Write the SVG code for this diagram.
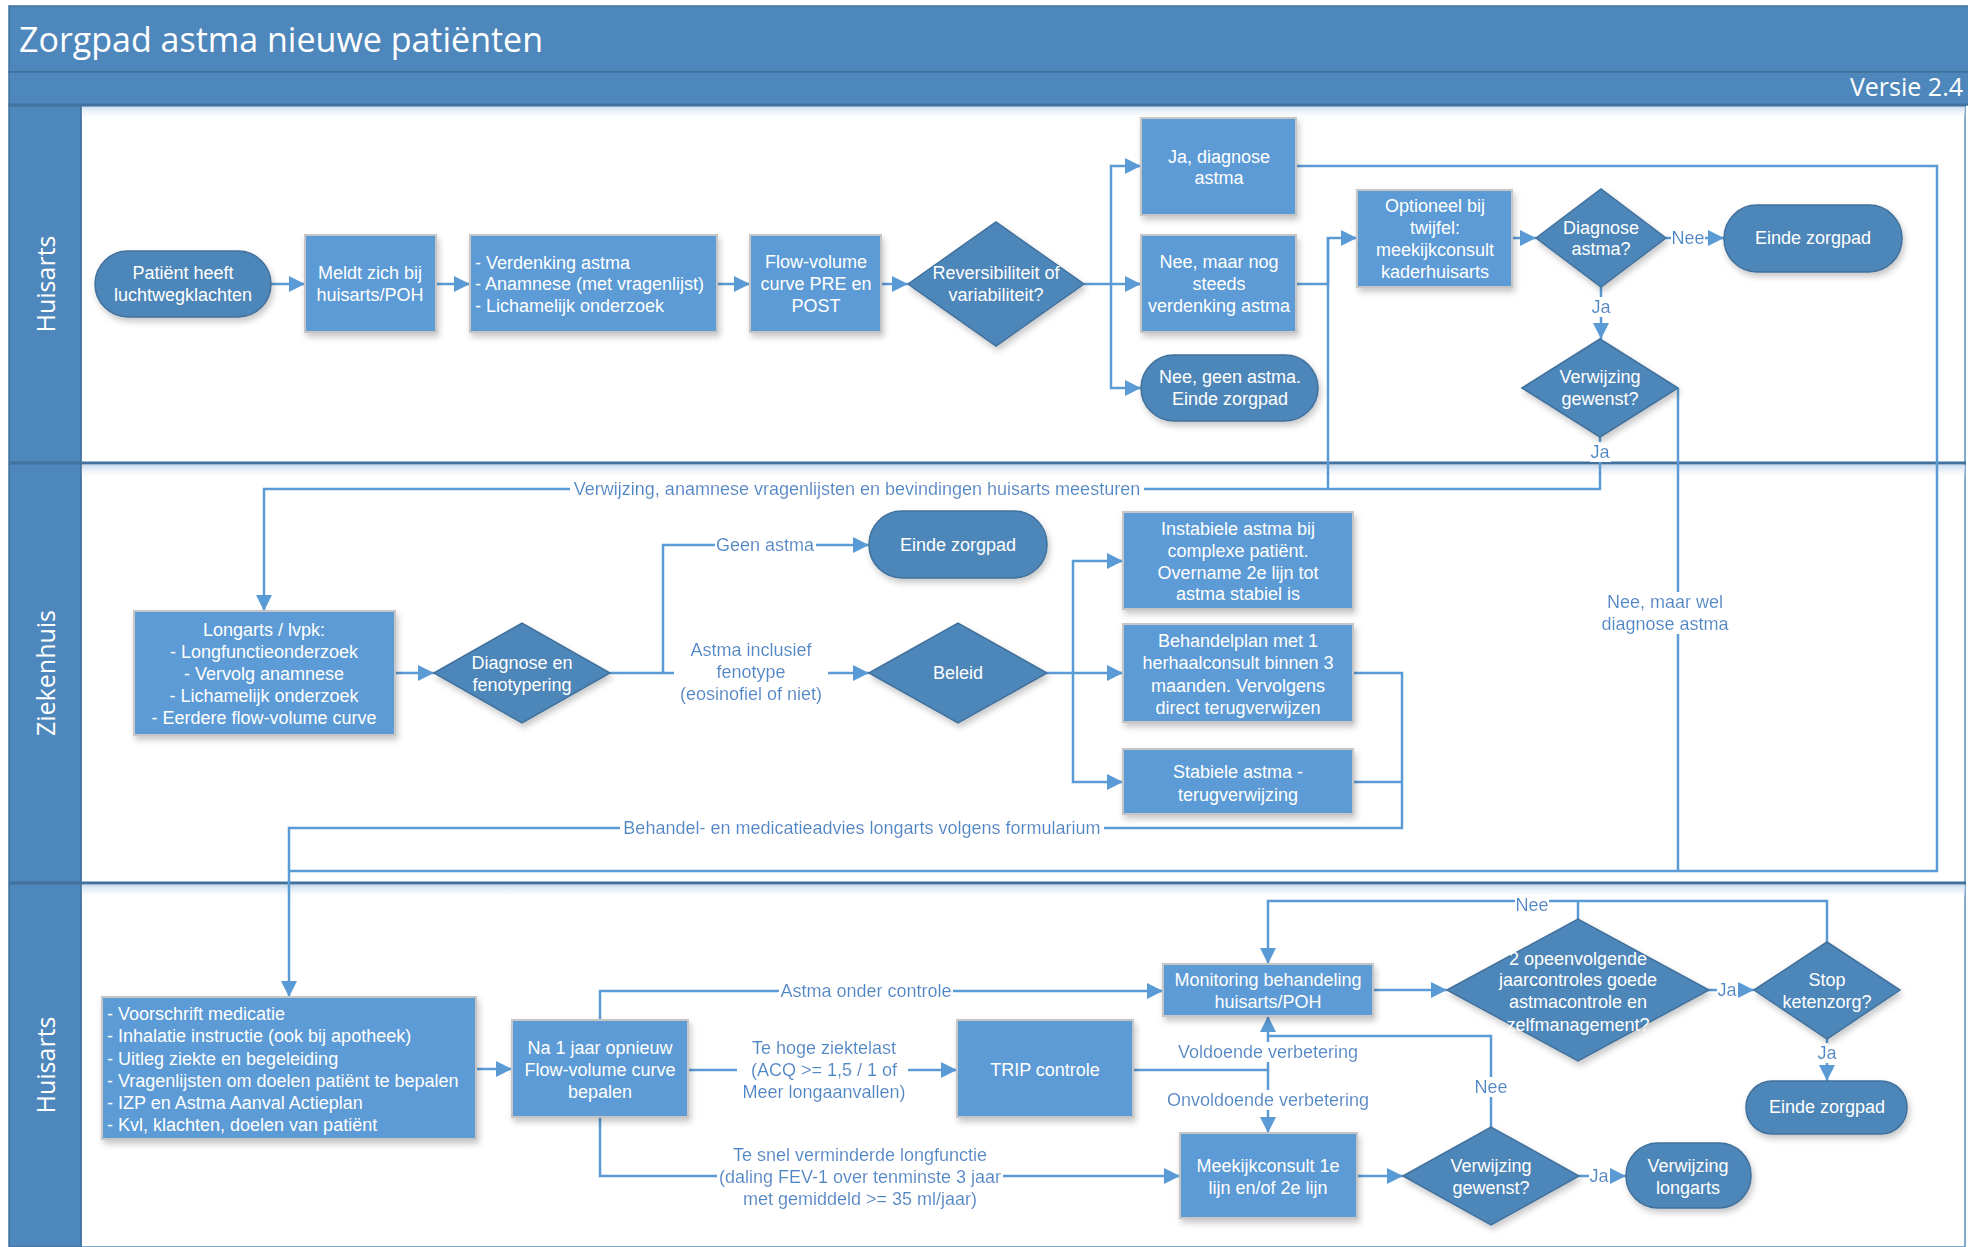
<svg xmlns="http://www.w3.org/2000/svg" width="1968" height="1247" viewBox="0 0 1968 1247">
<style>
.bar{fill:#4e87bc;stroke:#41719c;stroke-width:1.5}
.sep{stroke:#41719c;stroke-width:3}
.box{fill:#5b9bd5;stroke:#c6c6c6;stroke-width:2;filter:url(#sh)}
.dk{fill:#4e86b9;stroke:#41719c;stroke-width:1.5;filter:url(#sh)}
.t{font-family:"Liberation Sans",Arial,sans-serif;font-size:18px;fill:#fff;text-anchor:middle}
.tl{font-family:"Liberation Sans",Arial,sans-serif;font-size:18px;fill:#fff}
.lb{font-family:"Liberation Sans",Arial,sans-serif;font-size:18px;fill:#4a89c8;text-anchor:middle;filter:url(#bg)}
.hd{font-family:"Open Sans",sans-serif;fill:#fff}
.c{fill:none;stroke:#5b9bd5;stroke-width:2.5}
.a{marker-end:url(#ar)}
</style>
<defs>
<marker id="ar" markerUnits="userSpaceOnUse" markerWidth="17" markerHeight="17" refX="16" refY="8" orient="auto">
<path d="M0,0 L16,8 L0,16 Z" fill="#5b9bd5"/>
</marker>
<filter id="sh" x="-10%" y="-10%" width="130%" height="140%">
<feDropShadow dx="2" dy="4" stdDeviation="3" flood-color="#000" flood-opacity="0.22"/>
</filter>
<filter id="bg" x="-0.005" y="0" width="1.01" height="1">
<feFlood flood-color="#ffffff" result="f"/>
<feMerge><feMergeNode in="f"/><feMergeNode in="SourceGraphic"/></feMerge>
</filter>
<linearGradient id="fade" x1="0" y1="0" x2="0" y2="1">
<stop offset="0" stop-color="#c9dcef"/>
<stop offset="1" stop-color="#ffffff" stop-opacity="0"/>
</linearGradient>
</defs>
<rect width="1968" height="1247" fill="#fff"/>
<g id="header">
<rect class="bar" x="9" y="6" width="1962" height="66"/>
<rect class="bar" x="9" y="72" width="1962" height="33"/>
<text class="hd" x="19" y="52" font-size="34">Zorgpad astma nieuwe patiënten</text>
<text class="hd" x="1963" y="96" font-size="25" text-anchor="end">Versie 2.4</text>
</g>
<g id="lanes">
<rect x="81" y="105" width="1884" height="1142" fill="#fff" stroke="#5a8ec0" stroke-width="1.5"/>
<rect x="81" y="106" width="1884" height="14" fill="url(#fade)"/>
<rect x="81" y="465" width="1884" height="14" fill="url(#fade)"/>
<rect x="81" y="885" width="1884" height="14" fill="url(#fade)"/>
<rect x="9" y="105" width="72" height="1142" fill="#4e87bc" stroke="#41719c" stroke-width="1.5"/>
<line class="sep" x1="9" y1="105" x2="1966" y2="105"/>
<line class="sep" x1="9" y1="463" x2="1966" y2="463"/>
<line class="sep" x1="9" y1="883" x2="1966" y2="883"/>
<text class="hd" font-size="25" text-anchor="middle" x="46" y="293" transform="rotate(-90 46 284)">Huisarts</text>
<text class="hd" font-size="25" text-anchor="middle" x="46" y="682" transform="rotate(-90 46 673)">Ziekenhuis</text>
<text class="hd" font-size="25" text-anchor="middle" x="46" y="1074" transform="rotate(-90 46 1065)">Huisarts</text>
</g>
<g id="connectors">
<path class="c a" d="M271,284 H305"/>
<path class="c a" d="M436,284 H470"/>
<path class="c a" d="M717,284 H750"/>
<path class="c a" d="M881,284 H908"/>
<path class="c a" d="M1084,284 H1111 V166 H1141"/>
<path class="c a" d="M1111,284 H1141"/>
<path class="c a" d="M1111,284 V388 H1141"/>
<path class="c" d="M1328,238 V489"/>
<path class="c a" d="M1296,284 H1328 V238 H1357"/>
<path class="c a" d="M1512,238 H1536"/>
<path class="c a" d="M1666,238 H1724"/>
<path class="c a" d="M1601,287 V339"/>
<path class="c a" d="M1600,437 V489 H264 V611"/>
<path class="c" d="M1678,388 V871"/>
<path class="c a" d="M1296,166 H1937 V871 H289 V997"/>
<path class="c a" d="M395,673 H434"/>
<path class="c a" d="M610,673 H663 V545 H869"/>
<path class="c" d="M663,673 H674"/>
<path class="c a" d="M828,673 H869"/>
<path class="c a" d="M1046,673 H1123"/>
<path class="c a" d="M1073,673 V561 H1123"/>
<path class="c a" d="M1073,673 V782 H1123"/>
<path class="c" d="M1353,673 H1402 V828 H289 V871"/>
<path class="c" d="M1353,782 H1402"/>
<path class="c a" d="M476,1069 H512"/>
<path class="c a" d="M600,1020 V991 H1163"/>
<path class="c" d="M688,1070 H737"/>
<path class="c a" d="M908,1070 H957"/>
<path class="c a" d="M600,1117 V1176 H1180"/>
<path class="c a" d="M1133,1070 H1268 V1016"/>
<path class="c a" d="M1268,1070 V1133"/>
<path class="c a" d="M1373,990 H1447"/>
<path class="c a" d="M1708,990 H1754"/>
<path class="c a" d="M1827,1039 V1081"/>
<path class="c a" d="M1827,942 V901 H1268 V964"/>
<path class="c" d="M1578,919 V901"/>
<path class="c a" d="M1357,1176 H1403"/>
<path class="c" d="M1491,1127 V1036 H1268"/>
<path class="c a" d="M1579,1176 H1626"/>
<text class="lb" x="1688" y="244">Nee</text>
<text class="lb" x="1601" y="313">Ja</text>
<text class="lb" x="1600" y="458">Ja</text>
<text class="lb" x="857" y="495">Verwijzing, anamnese vragenlijsten en bevindingen huisarts meesturen</text>
<text class="lb"><tspan x="1665" y="608">Nee, maar wel</tspan><tspan x="1665" y="630">diagnose astma</tspan></text>
<text class="lb" x="765" y="551">Geen astma</text>
<text class="lb"><tspan x="751" y="656">Astma inclusief</tspan><tspan x="751" y="678">fenotype</tspan><tspan x="751" y="700">(eosinofiel of niet)</tspan></text>
<text class="lb" x="862" y="834">Behandel- en medicatieadvies longarts volgens formularium</text>
<text class="lb" x="866" y="997">Astma onder controle</text>
<text class="lb"><tspan x="824" y="1054">Te hoge ziektelast</tspan><tspan x="824" y="1076">(ACQ &gt;= 1,5 / 1 of</tspan><tspan x="824" y="1098">Meer longaanvallen)</tspan></text>
<text class="lb"><tspan x="860" y="1161">Te snel verminderde longfunctie</tspan><tspan x="860" y="1183">(daling FEV-1 over tenminste 3 jaar</tspan><tspan x="860" y="1205">met gemiddeld &gt;= 35 ml/jaar)</tspan></text>
<text class="lb" x="1268" y="1058">Voldoende verbetering</text>
<text class="lb" x="1268" y="1106">Onvoldoende verbetering</text>
<text class="lb" x="1532" y="911">Nee</text>
<text class="lb" x="1727" y="996">Ja</text>
<text class="lb" x="1827" y="1059">Ja</text>
<text class="lb" x="1491" y="1093">Nee</text>
<text class="lb" x="1599" y="1182">Ja</text>
</g>
<g id="n1"><rect class="dk" x="95" y="251" width="176" height="66" rx="33"/><text class="t"><tspan x="183" y="279">Patiënt heeft</tspan><tspan x="183" y="301">luchtwegklachten</tspan></text></g>
<g id="n2"><rect class="box" x="305" y="235" width="131" height="97"/><text class="t"><tspan x="370" y="279">Meldt zich bij</tspan><tspan x="370" y="301">huisarts/POH</tspan></text></g>
<g id="n3"><rect class="box" x="470" y="235" width="247" height="97"/><text class="tl"><tspan x="475" y="269">- Verdenking astma</tspan><tspan x="475" y="290">- Anamnese (met vragenlijst)</tspan><tspan x="475" y="312">- Lichamelijk onderzoek</tspan></text></g>
<g id="n4"><rect class="box" x="750" y="235" width="131" height="97"/><text class="t"><tspan x="816" y="268">Flow-volume</tspan><tspan x="816" y="290">curve PRE en</tspan><tspan x="816" y="312">POST</tspan></text></g>
<g id="n5"><polygon class="dk" points="908,284 996,222 1084,284 996,346"/><text class="t"><tspan x="996" y="279">Reversibiliteit of</tspan><tspan x="996" y="301">variabiliteit?</tspan></text></g>
<g id="n6"><rect class="box" x="1141" y="118" width="155" height="97"/><text class="t"><tspan x="1219" y="163">Ja, diagnose</tspan><tspan x="1219" y="184">astma</tspan></text></g>
<g id="n7"><rect class="box" x="1141" y="235" width="155" height="97"/><text class="t"><tspan x="1219" y="268">Nee, maar nog</tspan><tspan x="1219" y="290">steeds</tspan><tspan x="1219" y="312">verdenking astma</tspan></text></g>
<g id="n8"><rect class="dk" x="1141" y="355" width="177" height="66" rx="33"/><text class="t"><tspan x="1230" y="383">Nee, geen astma.</tspan><tspan x="1230" y="405">Einde zorgpad</tspan></text></g>
<g id="n9"><rect class="box" x="1357" y="190" width="155" height="97"/><text class="t"><tspan x="1435" y="212">Optioneel bij</tspan><tspan x="1435" y="234">twijfel:</tspan><tspan x="1435" y="256">meekijkconsult</tspan><tspan x="1435" y="278">kaderhuisarts</tspan></text></g>
<g id="n10"><polygon class="dk" points="1536,238 1601,189 1666,238 1601,287"/><text class="t"><tspan x="1601" y="234">Diagnose</tspan><tspan x="1601" y="255">astma?</tspan></text></g>
<g id="n11"><rect class="dk" x="1724" y="205" width="178" height="67" rx="33"/><text class="t" x="1813" y="244">Einde zorgpad</text></g>
<g id="n12"><polygon class="dk" points="1522,388 1600,339 1678,388 1600,437"/><text class="t"><tspan x="1600" y="383">Verwijzing</tspan><tspan x="1600" y="405">gewenst?</tspan></text></g>
<g id="n13"><rect class="box" x="134" y="611" width="261" height="124"/><text class="t"><tspan x="264" y="636">Longarts / lvpk:</tspan><tspan x="264" y="658">- Longfunctieonderzoek</tspan><tspan x="264" y="680">- Vervolg anamnese</tspan><tspan x="264" y="702">- Lichamelijk onderzoek</tspan><tspan x="264" y="724">- Eerdere flow-volume curve</tspan></text></g>
<g id="n14"><polygon class="dk" points="434,673 522,623 610,673 522,723"/><text class="t"><tspan x="522" y="669">Diagnose en</tspan><tspan x="522" y="691">fenotypering</tspan></text></g>
<g id="n15"><rect class="dk" x="869" y="511" width="178" height="67" rx="33"/><text class="t" x="958" y="551">Einde zorgpad</text></g>
<g id="n16"><polygon class="dk" points="869,673 958,623 1047,673 958,723"/><text class="t" x="958" y="679">Beleid</text></g>
<g id="n17"><rect class="box" x="1123" y="512" width="230" height="97"/><text class="t"><tspan x="1238" y="535">Instabiele astma bij</tspan><tspan x="1238" y="557">complexe patiënt.</tspan><tspan x="1238" y="579">Overname 2e lijn tot</tspan><tspan x="1238" y="600">astma stabiel is</tspan></text></g>
<g id="n18"><rect class="box" x="1123" y="624" width="230" height="98"/><text class="t"><tspan x="1238" y="647">Behandelplan met 1</tspan><tspan x="1238" y="669">herhaalconsult binnen 3</tspan><tspan x="1238" y="692">maanden. Vervolgens</tspan><tspan x="1238" y="714">direct terugverwijzen</tspan></text></g>
<g id="n19"><rect class="box" x="1123" y="749" width="230" height="65"/><text class="t"><tspan x="1238" y="778">Stabiele astma -</tspan><tspan x="1238" y="801">terugverwijzing</tspan></text></g>
<g id="n20"><rect class="box" x="102" y="997" width="374" height="142"/><text class="tl"><tspan x="107" y="1020">- Voorschrift medicatie</tspan><tspan x="107" y="1042">- Inhalatie instructie (ook bij apotheek)</tspan><tspan x="107" y="1065">- Uitleg ziekte en begeleiding</tspan><tspan x="107" y="1087">- Vragenlijsten om doelen patiënt te bepalen</tspan><tspan x="107" y="1109">- IZP en Astma Aanval Actieplan</tspan><tspan x="107" y="1131">- Kvl, klachten, doelen van patiënt</tspan></text></g>
<g id="n21"><rect class="box" x="512" y="1020" width="176" height="97"/><text class="t"><tspan x="600" y="1054">Na 1 jaar opnieuw</tspan><tspan x="600" y="1076">Flow-volume curve</tspan><tspan x="600" y="1098">bepalen</tspan></text></g>
<g id="n22"><rect class="box" x="957" y="1020" width="176" height="97"/><text class="t" x="1045" y="1076">TRIP controle</text></g>
<g id="n23"><rect class="box" x="1163" y="964" width="210" height="52"/><text class="t"><tspan x="1268" y="986">Monitoring behandeling</tspan><tspan x="1268" y="1008">huisarts/POH</tspan></text></g>
<g id="n24"><polygon class="dk" points="1447,990 1578,919 1709,990 1578,1061"/><text class="t"><tspan x="1578" y="965">2 opeenvolgende</tspan><tspan x="1578" y="986">jaarcontroles goede</tspan><tspan x="1578" y="1008">astmacontrole en</tspan><tspan x="1578" y="1031">zelfmanagement?</tspan></text></g>
<g id="n25"><polygon class="dk" points="1754,990 1827,942 1900,990 1827,1039"/><text class="t"><tspan x="1827" y="986">Stop</tspan><tspan x="1827" y="1008">ketenzorg?</tspan></text></g>
<g id="n26"><rect class="dk" x="1746" y="1081" width="161" height="53" rx="26"/><text class="t" x="1827" y="1113">Einde zorgpad</text></g>
<g id="n27"><rect class="box" x="1180" y="1133" width="177" height="85"/><text class="t"><tspan x="1268" y="1172">Meekijkconsult 1e</tspan><tspan x="1268" y="1194">lijn en/of 2e lijn</tspan></text></g>
<g id="n28"><polygon class="dk" points="1403,1176 1491,1127 1579,1176 1491,1225"/><text class="t"><tspan x="1491" y="1172">Verwijzing</tspan><tspan x="1491" y="1194">gewenst?</tspan></text></g>
<g id="n29"><rect class="dk" x="1626" y="1143" width="125" height="65" rx="32"/><text class="t"><tspan x="1688" y="1172">Verwijzing</tspan><tspan x="1688" y="1194">longarts</tspan></text></g>
</svg>
